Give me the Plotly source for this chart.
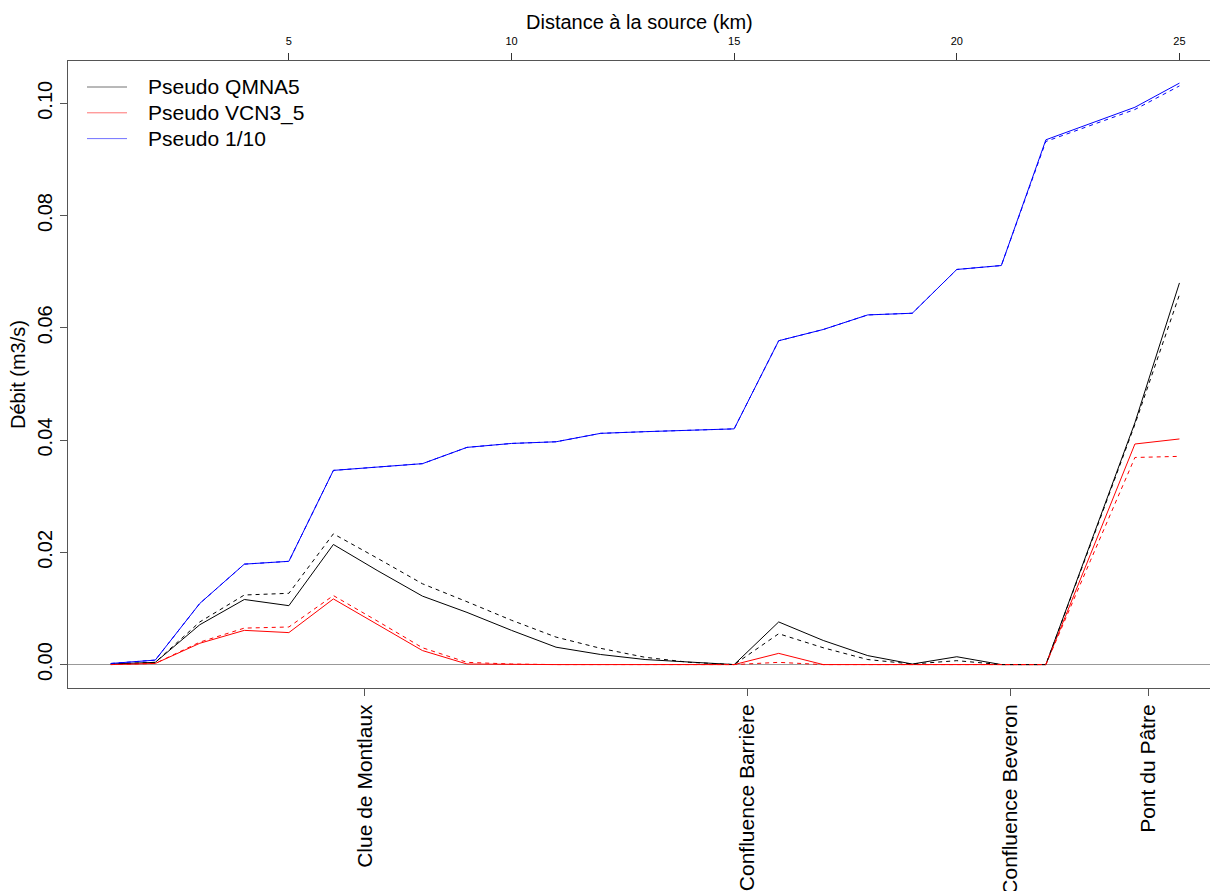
import plotly.graph_objects as go

# Distance from the source (km) for each computed point
km = list(range(1, 26))

# Pseudo QMNA5 (solid and dashed variants)
qmna5 = [0.0001, 0.0004, 0.0071, 0.0116, 0.0105, 0.0214, 0.0167, 0.0122, 0.0093, 0.0061,
         0.0031, 0.0018, 0.0009, 0.0004, 0.0000, 0.0076, 0.0043, 0.0016, 0.0001, 0.0014,
         0.0000, 0.0000, 0.0215, 0.0431, 0.0680]
qmna5_alt = [0.0001, 0.0004, 0.0076, 0.0124, 0.0127, 0.0233, 0.0189, 0.0144, 0.0112, 0.0079,
             0.0049, 0.0029, 0.0013, 0.0004, 0.0000, 0.0055, 0.0030, 0.0009, 0.0001, 0.0007,
             0.0000, 0.0000, 0.0213, 0.0428, 0.0659]

# Pseudo VCN3_5
vcn3_5 = [0.0000, 0.0002, 0.0038, 0.0061, 0.0057, 0.0117, 0.0071, 0.0025, 0.0001, 0.0000,
          0.0000, 0.0000, 0.0000, 0.0000, 0.0000, 0.0020, 0.0000, 0.0000, 0.0000, 0.0000,
          0.0000, 0.0000, 0.0196, 0.0393, 0.0402]
vcn3_5_alt = [0.0000, 0.0002, 0.0040, 0.0065, 0.0067, 0.0123, 0.0077, 0.0030, 0.0004, 0.0001,
              0.0000, 0.0000, 0.0000, 0.0000, 0.0000, 0.0004, 0.0000, 0.0000, 0.0000, 0.0000,
              0.0000, 0.0000, 0.0185, 0.0369, 0.0371]

# Pseudo 1/10
q1_10 = [0.0002, 0.0008, 0.0109, 0.0179, 0.0184, 0.0346, 0.0352, 0.0358, 0.0387, 0.0394,
         0.0397, 0.0412, 0.0415, 0.0417, 0.0420, 0.0577, 0.0597, 0.0623, 0.0626, 0.0704,
         0.0711, 0.0935, 0.0964, 0.0993, 0.1036]
q1_10_alt = [0.0002, 0.0008, 0.0109, 0.0179, 0.0184, 0.0346, 0.0352, 0.0358, 0.0387, 0.0394,
             0.0397, 0.0412, 0.0415, 0.0417, 0.0420, 0.0577, 0.0597, 0.0623, 0.0626, 0.0704,
             0.0711, 0.0932, 0.0960, 0.0989, 0.1031]

# Landmarks along the river (km) and their names
site_km = [6.706, 15.30, 21.20, 24.30]
site_names = ["Clue de Montlaux", "Confluence Barrière", "Confluence Beveron", "Pont du Pâtre"]

# Top-axis distance ticks
dist_ticks = [5, 10, 15, 20, 25]

# Y ticks
y_ticks = [0.00, 0.02, 0.04, 0.06, 0.08, 0.10]
y_ticktext = ["0.00", "0.02", "0.04", "0.06", "0.08", "0.10"]

series_names = ["Pseudo QMNA5", "Pseudo VCN3_5", "Pseudo 1/10"]
series_colors = ["#000000", "#ff0000", "#0000ff"]

FONT = "Liberation Sans, Arial, sans-serif"

fig = go.Figure()

solid = [qmna5, vcn3_5, q1_10]
dashed = [qmna5_alt, vcn3_5_alt, q1_10_alt]

# Dashed variants share the distance axis drawn on top (same range as the bottom one)
for vals, col in zip(dashed, series_colors):
    fig.add_trace(go.Scatter(x=km, y=vals, mode="lines", showlegend=False, xaxis="x2",
                             line=dict(color=col, width=1, dash="4px,4px")))
for vals, col, name in zip(solid, series_colors, series_names):
    fig.add_trace(go.Scatter(x=km, y=vals, mode="lines", name=name, showlegend=False,
                             line=dict(color=col, width=1)))

# Plot-area geometry (pixels)
W, H = 1210, 891
L, R, T, B = 68, 0, 61, 203
pw, ph = W - L - R, H - T - B

def px_x(x):
    return (x - L) / pw

def px_y(y):
    return (H - B - y) / ph

# Legend keys drawn at the top-left corner
leg_x0, leg_x1, leg_tx = 87, 127, 146
leg_y0, leg_dy = 87, 25.8
shapes = []
annotations = []
for i, (name, col) in enumerate(zip(series_names, series_colors)):
    yy = leg_y0 + i * leg_dy
    shapes.append(dict(type="line", xref="paper", yref="paper",
                       x0=px_x(leg_x0), x1=px_x(leg_x1), y0=px_y(yy), y1=px_y(yy),
                       line=dict(color=col, width=1), opacity=0.55))
    annotations.append(dict(xref="paper", yref="paper", x=px_x(leg_tx), y=px_y(yy),
                            xanchor="left", yanchor="middle", showarrow=False,
                            text=name, font=dict(family=FONT, size=21, color="black")))

# Title of the top distance axis
annotations.append(dict(xref="paper", yref="paper", x=0.5, y=px_y(22),
                        xanchor="center", yanchor="middle", showarrow=False,
                        text="Distance à la source (km)",
                        font=dict(family=FONT, size=20, color="black")))

xrange = [0.04, 25.686]
fig.update_layout(
    width=W, height=H,
    margin=dict(l=L, r=R, t=T, b=B, autoexpand=False),
    paper_bgcolor="white", plot_bgcolor="white",
    font=dict(family=FONT, color="black"),
    shapes=shapes, annotations=annotations,
    xaxis=dict(range=xrange, tickmode="array", tickvals=site_km, ticktext=site_names,
               tickangle=-90, ticks="outside", ticklen=7, tickcolor="#555",
               tickfont=dict(family=FONT, size=21), showline=True, linecolor="#555",
               linewidth=1, showgrid=False, zeroline=False, anchor="y", automargin=False),
    xaxis2=dict(range=xrange, overlaying="x", side="top", anchor="y", tickmode="array",
                tickvals=dist_ticks, ticktext=[str(v) for v in dist_ticks],
                ticks="outside", ticklen=7, tickcolor="#333", ticklabelstandoff=4,
                tickfont=dict(family=FONT, size=11), showline=True, linecolor="#555",
                linewidth=1, showgrid=False, zeroline=False, automargin=False),
    yaxis=dict(range=[-0.00417, 0.10754], tickmode="array", tickvals=y_ticks,
               ticktext=y_ticktext, tickangle=-90, ticks="outside", ticklen=7,
               tickcolor="#555", tickfont=dict(family=FONT, size=20), showline=True,
               linecolor="#555", linewidth=1, showgrid=False, zeroline=True,
               zerolinecolor="#999", zerolinewidth=1, automargin=False,
               title=dict(text="Débit (m3/s)", font=dict(family=FONT, size=20), standoff=3)),
)

fig.write_html("out.html")
